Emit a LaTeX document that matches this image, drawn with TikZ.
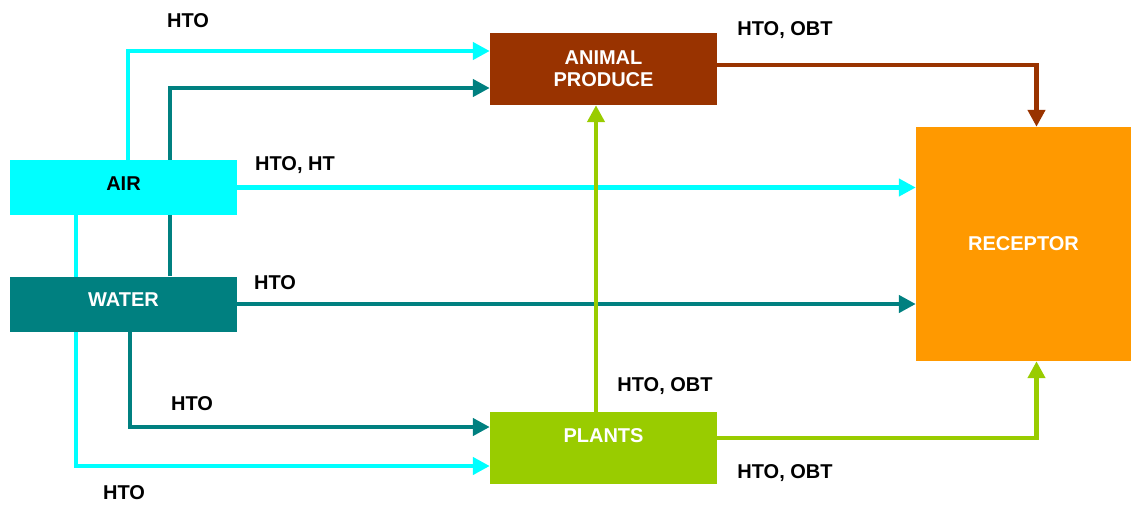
\documentclass[tikz,border=0pt]{standalone}
\usepackage{fontspec}
\setmainfont{Liberation Sans}
\usetikzlibrary{arrows.meta,backgrounds}

\definecolor{aircol}{HTML}{00FFFF}
\definecolor{watercol}{HTML}{008080}
\definecolor{animalcol}{HTML}{993300}
\definecolor{plantcol}{HTML}{99CC00}
\definecolor{receptcol}{HTML}{FF9900}

\tikzset{
  box/.style={rectangle, minimum width=227pt, minimum height=55pt, inner sep=0pt,
              font=\fontsize{20}{22}\selectfont\bfseries, text=white, align=center},
  flow/.style={->, line width=4.5pt},
  lbl/.style={font=\fontsize{20}{22}\selectfont\bfseries, inner sep=0pt}
}

\begin{document}
\begin{tikzpicture}[x=1pt, y=-1pt, >={Triangle[length=17pt,width=17pt]}]
    \useasboundingbox (0,0) rectangle (1131,504);

    % Nodes {air, water, animal, plants, receptor}
    \node [box, fill=aircol, text=black, text height=14pt, text depth=9pt]   (air)      at (123.5,187.5) {AIR};
    \node [box, fill=watercol, text height=14pt, text depth=9pt]             (water)    at (123.5,304)   {WATER};
    \node [box, fill=animalcol, minimum height=72pt]                          (animal)   at (603.5,69)    {ANIMAL\\PRODUCE};
    \node [box, fill=plantcol, minimum height=72pt, text height=14pt, text depth=26pt] (plants) at (603.5,448) {PLANTS};
    \node [box, fill=receptcol, minimum width=215pt, minimum height=234pt]    (receptor) at (1023.5,244)   {RECEPTOR};

    % Paths
    \begin{scope}[on background layer]
    \draw [flow, aircol]    (air.north -| 128,0)   |- ([yshift=18pt]animal.west);
    \draw [flow, watercol]  (water.north -| 170,0) |- ([yshift=-19pt]animal.west);
    \draw [flow, aircol]    (air.south -| 76,0)    |- ([yshift=-18pt]plants.west);
    \draw [flow, watercol]  (water.south -| 130,0) |- ([yshift=21pt]plants.west);
    \end{scope}
    \draw [flow, aircol]    (air.east)   -- (air.east -| receptor.west);
    \draw [flow, watercol]  (water.east) -- (water.east -| receptor.west);
    \draw [flow, animalcol] ([yshift=4pt]animal.east) -| ([xshift=13pt]receptor.north);
    \draw [flow, plantcol]  (plants.north -| 596,0) -- (animal.south -| 596,0);
    \draw [flow, plantcol]  ([yshift=10pt]plants.east) -| ([xshift=13pt]receptor.south);

    % Labels
    \node [lbl] (l1) at (188,21)  {HTO};
    \node [lbl] (l2) at (295,165) {HTO, HT};
    \node [lbl] (l3) at (275,283) {HTO};
    \node [lbl] (l4) at (192,404) {HTO};
    \node [lbl] (l5) at (124,493) {HTO};
    \node [lbl] (l6) at (785,30)  {HTO, OBT};
    \node [lbl] (l7) at (665,386) {HTO, OBT};
    \node [lbl] (l8) at (785,473) {HTO, OBT};
\end{tikzpicture}
\end{document}
